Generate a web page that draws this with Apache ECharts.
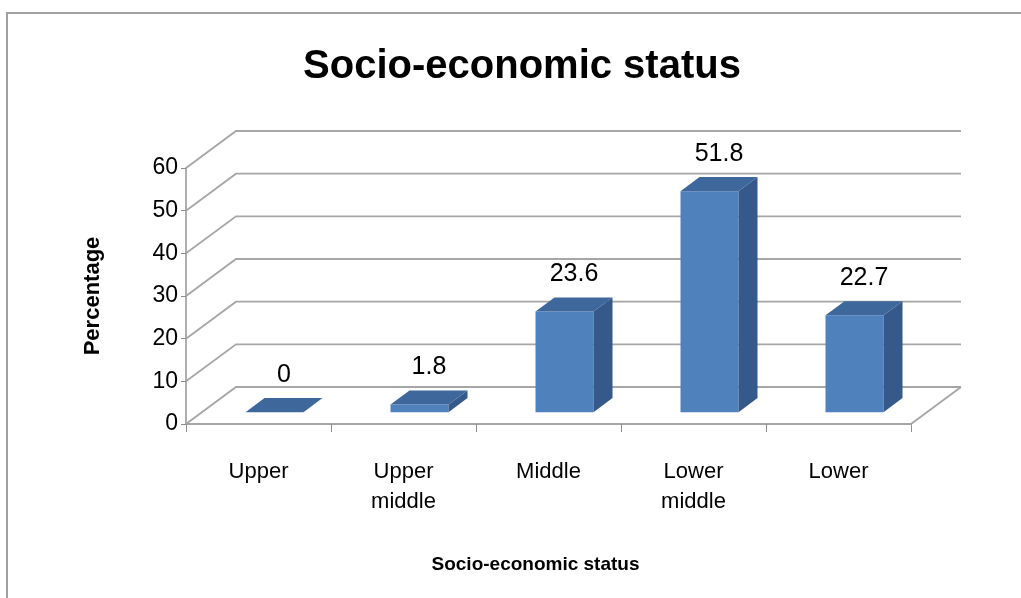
<!DOCTYPE html>
<html>
<head>
<meta charset="utf-8">
<script src="https://cdn.jsdelivr.net/npm/echarts@6/dist/echarts.min.js"></script>
<style>
html,body{margin:0;padding:0;background:#fff;}
#chart{width:1021px;height:598px;}
</style>
</head>
<body>
<div id="chart"></div>
<script>
const categories = ['Upper', 'Upper\nmiddle', 'Middle', 'Lower\nmiddle', 'Lower'];
const values = [0, 1.8, 23.6, 51.8, 22.7];
const yTicks = [0, 10, 20, 30, 40, 50, 60];
const chartTitle = 'Socio-economic status';
const xTitle = 'Socio-economic status';
const yTitle = 'Percentage';

const FONT = '"Liberation Sans", Arial, sans-serif';
const DX = 50, DY = -37;           // depth of 3D walls
const FRONT = 0.32, DEPTH = 0.38;  // bar position within depth
const BAR_W = 0.4;
const GRID_COLOR = '#a6a6a6';

const chart = echarts.init(document.getElementById('chart'));

function gridItem(params, api) {
  const v = api.value(1);
  const p = api.coord([0, v]);
  const cs = params.coordSys;
  const x0 = cs.x, x1 = cs.x + cs.width, y = p[1];
  const children = [{
    type: 'polyline',
    shape: { points: [[x0, y], [x0 + DX, y + DY], [x1 + DX, y + DY]] },
    style: { stroke: GRID_COLOR, lineWidth: 1.8, fill: null }
  }];
  if (v === 0) {
    children.push({
      type: 'polyline',
      shape: { points: [[x1, y], [x1 + DX, y + DY]] },
      style: { stroke: GRID_COLOR, lineWidth: 1.8, fill: null }
    });
  }
  return { type: 'group', children };
}

function barItem(params, api) {
  const idx = api.value(0);
  const val = api.value(1);
  const top = api.coord([idx, val]);
  const base = api.coord([idx, 0]);
  const bw = api.size([1, 0])[0] * BAR_W;
  const ox = FRONT * DX, oy = FRONT * DY;
  const bdx = DEPTH * DX, bdy = DEPTH * DY;
  const fx = top[0] - bw / 2 + ox;
  const ty = top[1] + oy;
  const by = base[1] + oy;
  return {
    type: 'group',
    children: [
      { type: 'rect', shape: { x: fx, y: ty, width: bw, height: by - ty },
        style: { fill: '#4F81BD' } },
      { type: 'polygon', shape: { points: [[fx + bw, ty], [fx + bw + bdx, ty + bdy], [fx + bw + bdx, by + bdy], [fx + bw, by]] },
        style: { fill: '#34598A' } },
      { type: 'polygon', shape: { points: [[fx, ty], [fx + bdx, ty + bdy], [fx + bw + bdx, ty + bdy], [fx + bw, ty]] },
        style: { fill: '#3E679B' } },
      { type: 'text', style: { text: String(api.value(1)), x: fx + bw / 2 + bdx / 2, y: ty + bdy - 23,
        align: 'center', verticalAlign: 'middle', fontSize: 25, fontFamily: FONT, fill: '#000' } }
    ]
  };
}

const option = {
  animation: false,
  backgroundColor: '#fff',
  title: {
    text: chartTitle,
    left: 517, top: 42, textAlign: 'center',
    textStyle: { fontSize: 40, fontWeight: 'bold', fontFamily: FONT, color: '#000' }
  },
  graphic: [{
    type: 'rect', shape: { x: 7, y: 13, width: 1100, height: 700 },
    style: { fill: null, stroke: '#a0a0a0', lineWidth: 2 }, silent: true, z: -1
  }],
  grid: { left: 186, right: 110, top: 168, bottom: 174, containLabel: false },
  xAxis: {
    type: 'category',
    data: categories,
    name: xTitle,
    nameLocation: 'middle',
    nameGap: 131,
    nameTextStyle: { fontSize: 19, fontWeight: 'bold', fontFamily: FONT, color: '#000', padding: [0, 26, 0, 0] },
    axisLine: { show: true, lineStyle: { color: GRID_COLOR, width: 1.8 } },
    axisTick: { show: true, length: 8, lineStyle: { color: '#8c8c8c' } },
    axisLabel: { fontSize: 22, fontFamily: FONT, color: '#000', margin: 33, lineHeight: 30, interval: 0 },
    splitLine: { show: false }
  },
  yAxis: {
    type: 'value',
    min: 0, max: 60, interval: 10,
    name: yTitle,
    nameLocation: 'middle',
    nameGap: 82,
    nameRotate: 90,
    nameTextStyle: { fontSize: 22, fontWeight: 'bold', fontFamily: FONT, color: '#000' },
    axisLine: { show: true, lineStyle: { color: GRID_COLOR, width: 1.8 } },
    axisTick: { show: true, length: 5, lineStyle: { color: '#8c8c8c' } },
    axisLabel: { fontSize: 23, fontFamily: FONT, color: '#000', margin: 8 },
    splitLine: { show: false }
  },
  series: [
    {
      type: 'custom',
      renderItem: gridItem,
      data: yTicks.map(v => [0, v]),
      encode: { x: 0, y: 1 },
      silent: true,
      z: 1
    },
    {
      type: 'custom',
      renderItem: barItem,
      data: values.map((v, i) => [i, v]),
      encode: { x: 0, y: 1 },
      z: 3
    }
  ]
};
chart.setOption(option);
</script>
</body>
</html>
